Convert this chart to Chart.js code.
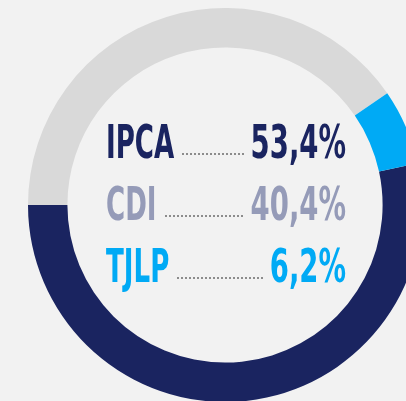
<!DOCTYPE html>
<html>
<head>
<meta charset="utf-8">
<script src="https://cdn.jsdelivr.net/npm/chart.js@4"></script>
<style>
  html, body { margin: 0; padding: 0; background: #f2f2f2; overflow: hidden; width: 406px; height: 401px; }
  #wrap { position: absolute; left: 28px; top: 8px; width: 394px; height: 394px; }
</style>
</head>
<body>
<div id="wrap"><canvas id="chart"></canvas></div>
<script>
// Composição por indexador
const categories = ["IPCA", "CDI", "TJLP"];
const shares = [53.4, 40.4, 6.2];
const shareLabels = ["53,4%", "40,4%", "6,2%"];
const ringColors = ["#1a2460", "#d9d9d9", "#00aaf5"];
const textColors = ["#1a2460", "#959bb8", "#00aaf5"];

// O IPCA termina às 9 horas; o resto segue no sentido horário.
const rotation = 270 - (360 * shares[0]) / 100;

// Escreve a legenda dentro do anel, com pontilhado entre nome e valor.
const centerText = {
  id: "centerText",
  afterDraw(chart) {
    const arc = chart.getDatasetMeta(0).data[0];
    const cx = arc.x;
    const cy = arc.y;
    const ctx = chart.ctx;
    ctx.save();
    ctx.font = "bold 47px 'Liberation Sans Narrow', 'DejaVu Sans Condensed', sans-serif";
    const sum = (arr) => arr.reduce((acc, t) => acc + ctx.measureText(t).width, 0);
    // fonte condensada: compressão horizontal ajustada ao original
    const sxName = 182 / sum(categories);
    const sxVal = 267 / sum(shareLabels);
    const left = cx - 119;
    const right = cx + 121;
    categories.forEach((name, i) => {
      const base = cy - 47 + i * 62;
      const nameW = ctx.measureText(name).width * sxName;
      const valW = ctx.measureText(shareLabels[i]).width * sxVal;
      ctx.fillStyle = textColors[i];
      ctx.save();
      ctx.translate(left, base);
      ctx.scale(sxName, 1);
      ctx.fillText(name, 0, 0);
      ctx.restore();
      ctx.save();
      ctx.translate(right - valW, base);
      ctx.scale(sxVal, 1);
      ctx.fillText(shareLabels[i], 0, 0);
      ctx.restore();
      // pontilhado
      ctx.fillStyle = "#8c8c8c";
      const x0 = left + nameW + 8;
      const x1 = right - valW - 8;
      for (let x = x0; x <= x1; x += 4) {
        ctx.fillRect(Math.round(x), base - 5, 2, 2);
      }
    });
    ctx.restore();
  }
};

new Chart(document.getElementById("chart").getContext("2d"), {
  type: "doughnut",
  data: {
    labels: categories,
    datasets: [
      {
        data: shares,
        backgroundColor: ringColors,
        borderWidth: 0,
        hoverOffset: 0
      }
    ]
  },
  options: {
    responsive: true,
    maintainAspectRatio: false,
    animation: false,
    rotation: rotation,
    cutout: "80%",
    layout: { padding: 0 },
    plugins: {
      legend: { display: false },
      tooltip: { enabled: false }
    }
  },
  plugins: [centerText]
});
</script>
</body>
</html>
